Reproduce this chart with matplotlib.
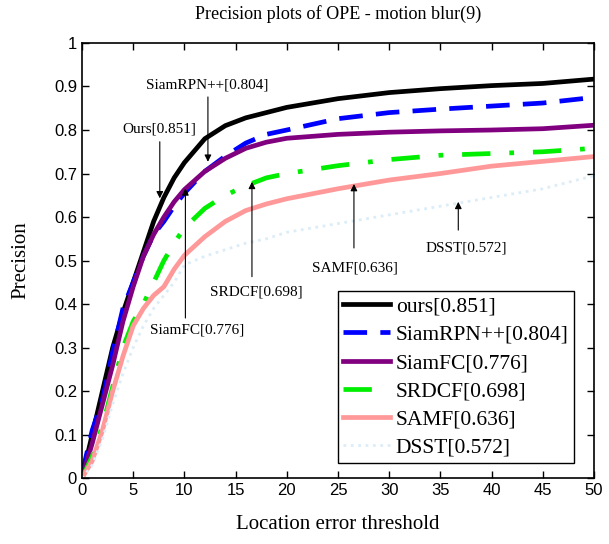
import matplotlib
matplotlib.use("Agg")
import matplotlib.pyplot as plt

thresholds = [0, 1, 2, 3, 4, 5, 6, 7, 8, 9, 10, 12, 14, 16, 18, 20, 25, 30, 35, 40, 45, 50]

ours = [0, 0.10, 0.20, 0.30, 0.38, 0.45, 0.52, 0.59, 0.645, 0.69, 0.725, 0.78, 0.81, 0.828,
        0.84, 0.852, 0.872, 0.886, 0.895, 0.902, 0.907, 0.917]
siamrpn = [0.01, 0.11, 0.18, 0.29, 0.39, 0.45, 0.51, 0.56, 0.59, 0.625, 0.655, 0.705, 0.74,
           0.77, 0.79, 0.80, 0.826, 0.84, 0.848, 0.855, 0.862, 0.875]
siamfc = [0, 0.08, 0.17, 0.26, 0.36, 0.44, 0.51, 0.56, 0.60, 0.635, 0.663, 0.705, 0.735,
          0.758, 0.772, 0.781, 0.79, 0.795, 0.798, 0.80, 0.803, 0.811]
srdcf = [0, 0.05, 0.12, 0.21, 0.30, 0.36, 0.40, 0.45, 0.50, 0.54, 0.575, 0.62, 0.65, 0.672,
         0.69, 0.70, 0.718, 0.732, 0.742, 0.746, 0.75, 0.758]
samf = [0, 0.04, 0.11, 0.20, 0.28, 0.35, 0.39, 0.42, 0.44, 0.48, 0.512, 0.555, 0.59, 0.615,
        0.63, 0.642, 0.665, 0.685, 0.70, 0.717, 0.728, 0.739]
dsst = [0, 0.03, 0.09, 0.17, 0.24, 0.30, 0.35, 0.39, 0.42, 0.45, 0.49, 0.51, 0.525, 0.54,
        0.55, 0.565, 0.585, 0.605, 0.625, 0.645, 0.665, 0.695]

legend_labels = ["ours[0.851]", "SiamRPN++[0.804]", "SiamFC[0.776]", "SRDCF[0.698]",
                 "SAMF[0.636]", "DSST[0.572]"]

serif = "Liberation Serif"
sans = "Liberation Sans"

fig = plt.figure(figsize=(6.09, 5.44), dpi=100)
ax = fig.add_axes([0.1346, 0.121, 0.8407, 0.8])

ax.plot(thresholds, ours, color="black", lw=3.4, label=legend_labels[0])
ax.plot(thresholds, siamrpn, color="#0000ff", lw=3.4, dashes=(5, 2.8), label=legend_labels[1])
ax.plot(thresholds, siamfc, color="#800080", lw=3.4, label=legend_labels[2])
ax.plot(thresholds, srdcf, color="#00ee00", lw=3.4, dashes=(6, 4, 1, 4), label=legend_labels[3])
ax.plot(thresholds, samf, color="#ff9999", lw=3.4, label=legend_labels[4])
ax.plot(thresholds, dsst, color="#dcedf8", lw=2.0, ls=":", label=legend_labels[5])

# arrows: (text, text x, text y, arrow x, arrow start y, arrow tip y)
notes = [
    ("SiamRPN++[0.804]", 12.2, 0.903, 12.3, 0.876, 0.727),
    ("Ours[0.851]", 7.6, 0.802, 7.6, 0.773, 0.643),
    ("SiamFC[0.776]", 11.2, 0.340, 10.1, 0.368, 0.666),
    ("SRDCF[0.698]", 17.06, 0.428, 16.6, 0.463, 0.681),
    ("SAMF[0.636]", 26.66, 0.483, 26.56, 0.529, 0.676),
    ("DSST[0.572]", 37.57, 0.529, 36.75, 0.570, 0.635),
]
for text, tx, ty, axx, y0, y1 in notes:
    ax.annotate("", xy=(axx, y1), xytext=(axx, y0),
                arrowprops=dict(arrowstyle="-|>", lw=0.8, color="black", mutation_scale=10,
                                shrinkA=0, shrinkB=0))
    ax.text(tx, ty, text, ha="center", va="center", fontsize=11, family=serif)

ax.set_xlim(0, 50)
ax.set_ylim(0, 1)
ax.set_xticks(range(0, 51, 5))
ax.set_yticks([i / 10 for i in range(11)])
ax.set_yticklabels(["0", "0.1", "0.2", "0.3", "0.4", "0.5", "0.6", "0.7", "0.8", "0.9", "1"])
ax.tick_params(direction="in", top=True, right=True, length=5, width=1, labelsize=12)
for lab in ax.get_xticklabels() + ax.get_yticklabels():
    lab.set_family(sans)
for sp in ax.spines.values():
    sp.set_linewidth(1.2)

ax.set_title("Precision plots of OPE - motion blur(9)", fontsize=13.1, family=serif, pad=17)
ax.set_xlabel("Location error threshold", fontsize=15, family=serif, labelpad=12)
ax.set_ylabel("Precision", fontsize=15, family=serif, labelpad=17)

leg = ax.legend(loc="lower right", bbox_to_anchor=(0.961, 0.034), borderaxespad=0,
                prop={"family": serif, "size": 15.5}, fancybox=False, edgecolor="black",
                framealpha=1, handlelength=2.2, handletextpad=0.25, labelspacing=0.38,
                borderpad=0.25)
leg.get_frame().set_linewidth(1.0)

fig.savefig("out.png", dpi=100)
